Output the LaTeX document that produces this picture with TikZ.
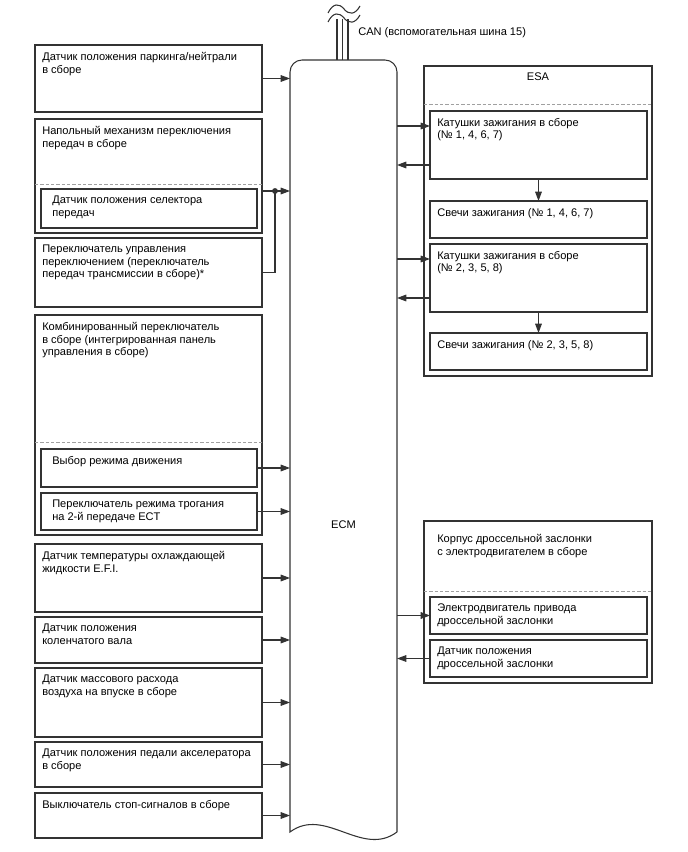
\documentclass[tikz,border=0pt]{standalone}
\usepackage{fontspec}
\setmainfont{Liberation Sans}
\usepackage{tikz}
\usetikzlibrary{arrows.meta,calc,positioning}
\usepackage{xcolor}
\definecolor{framegray}{HTML}{333333}
\definecolor{dashgray}{HTML}{A0A0A0}
\newcommand{\partbox}[7][7]{% [text indent]{name}{x}{y}{w}{h}{text}
  \node[partbox,minimum width=#5*0.75pt,minimum height=#6*0.75pt,anchor=north west] (#2) at (#3,#4) {};
  \node[parttext,anchor=north west] (#2-t) at ($(#2.north west)+(#1,7)$) {#7};
}

\begin{document}
\begin{tikzpicture}[x=0.75pt,y=-0.75pt,
  partbox/.style={draw=framegray,line width=0.8pt,fill=white,inner sep=0pt,outer sep=0pt},
  parttext/.style={font=\fontsize{8.3}{9.4}\selectfont,align=left,inner sep=0pt},
  sig/.style={draw=framegray,line width=0.8pt,-{Triangle[length=7pt,width=5pt]}},
  wire/.style={draw=framegray,line width=0.8pt},
  sepline/.style={dashgray,line width=0.7pt,dash pattern=on 2.5pt off 1.5pt}]
  \useasboundingbox (0,0) rectangle (688,852);
  % ECM body
  \node[minimum width=107*0.75pt,minimum height=772*0.75pt,inner sep=0pt,outer sep=0pt,anchor=north west] (ecm) at (290,60) {};
  \draw[wire] (ecm.south east) [rounded corners=9pt] -- (ecm.north east) -- (ecm.north west) [sharp corners] -- (ecm.south west)
    .. controls ($(ecm.south west)+(35,-26)$) and ($(ecm.south east)+(-35,26)$) .. (ecm.south east);
  \node[font=\fontsize{8.3}{9.4}\selectfont] (ecm-t) at ($(ecm.center)+(0,79)$) {ECM};
  % CAN lines
  \foreach \cx in {337,342.5,348} \draw[wire,line width=1.1pt] (\cx,19) -- (ecm.north -| \cx,0);
  \foreach \cy in {0,9}
    \draw[wire,line width=0.8pt] (328,13+\cy) .. controls (333,3+\cy) and (339,3+\cy) .. (344,9+\cy) .. controls (349,15+\cy) and (355,15+\cy) .. (360,6+\cy);
  \node[font=\fontsize{8.3}{9.4}\selectfont,anchor=west,inner sep=0pt] (can) at (358,33) {CAN (вспомогательная шина 15)};
  % Left column
  \partbox{pnp}{35}{45}{227}{67}{Датчик положения паркинга/нейтрали\\в сборе}
  \partbox{shifter}{35}{119}{227}{114}{Напольный механизм переключения\\передач в сборе}
  \draw[sepline] ($(shifter.north west)+(0,65)$) -- ($(shifter.north east)+(0,65)$);
  \partbox[11]{selector}{41}{189}{216}{39}{Датчик положения селектора\\передач}
  \partbox{shiftsw}{35}{238}{227}{69}{Переключатель управления\\переключением (переключатель\\передач трансмиссии в сборе)*}
  \partbox{combsw}{35}{315}{227}{220}{Комбинированный переключатель\\в сборе (интегрированная панель\\управления в сборе)}
  \draw[sepline] ($(combsw.north west)+(0,127)$) -- ($(combsw.north east)+(0,127)$);
  \partbox[11]{drvmode}{41}{449}{216}{38}{Выбор режима движения}
  \partbox[11]{ectsw}{41}{493}{216}{37}{Переключатель режима трогания\\на 2-й передаче ECT}
  \partbox{coolant}{35}{544}{227}{68}{Датчик температуры охлаждающей\\жидкости E.F.I.}
  \partbox{ckp}{35}{617}{227}{46}{Датчик положения\\коленчатого вала}
  \partbox{maf}{35}{668}{227}{69}{Датчик массового расхода\\воздуха на впуске в сборе}
  \partbox{app}{35}{742}{227}{45}{Датчик положения педали акселератора\\в сборе}
  \partbox{stop}{35}{793}{227}{45}{Выключатель стоп-сигналов в сборе}
  % Inputs to ECM
  \foreach \n in {pnp,drvmode,ectsw,coolant,ckp,maf,app,stop}
    \draw[sig] (\n.east) -- (ecm.west |- \n.east);
  \coordinate (shj) at (275,191);
  \draw[sig] (shifter.east |- shj) -- (ecm.west |- shj);
  \draw[wire] (shiftsw.east) -| (shj);
  \fill[framegray] (shj) circle (2.2pt);
  % ESA
  \partbox{esa}{424}{66}{228}{310}{}
  \node[parttext] (esa-t) at ($(esa.north)+(0,11)$) {ESA};
  \draw[sepline] ($(esa.north west)+(0,38)$) -- ($(esa.north east)+(0,38)$);
  \partbox{coilA}{430}{111}{217}{68}{Катушки зажигания в сборе\\(№ 1, 4, 6, 7)}
  \partbox{plugA}{430}{201}{217}{37}{Свечи зажигания (№ 1, 4, 6, 7)}
  \partbox{coilB}{430}{244}{217}{68}{Катушки зажигания в сборе\\(№ 2, 3, 5, 8)}
  \partbox{plugB}{430}{333}{217}{37}{Свечи зажигания (№ 2, 3, 5, 8)}
  \foreach \n in {coilA,coilB} {
    \coordinate (\n-in) at ($(\n.north west)+(0,15)$);
    \coordinate (\n-out) at ($(\n.south west)+(0,-14)$);
    \draw[sig] (ecm.east |- \n-in) -- (\n-in);
    \draw[sig] (\n-out) -- (ecm.east |- \n-out);
  }
  \draw[sig] (coilA.south) -- (plugA.north);
  \draw[sig] (coilB.south) -- (plugB.north);
  % Throttle body
  \partbox[13]{etcs}{424}{521}{228}{162}{}
  \node[parttext,anchor=north west] (etcs-t) at ($(etcs.north west)+(13,13)$) {Корпус дроссельной заслонки\\с электродвигателем в сборе};
  \draw[sepline] ($(etcs.north west)+(0,70)$) -- ($(etcs.north east)+(0,70)$);
  \partbox{motor}{430}{597}{217}{37}{Электродвигатель привода\\дроссельной заслонки}
  \partbox{tps}{430}{640}{217}{37}{Датчик положения\\дроссельной заслонки}
  \draw[sig] (ecm.east |- motor.west) -- (motor.west);
  \draw[sig] (tps.west) -- (ecm.east |- tps.west);
\end{tikzpicture}
\end{document}
